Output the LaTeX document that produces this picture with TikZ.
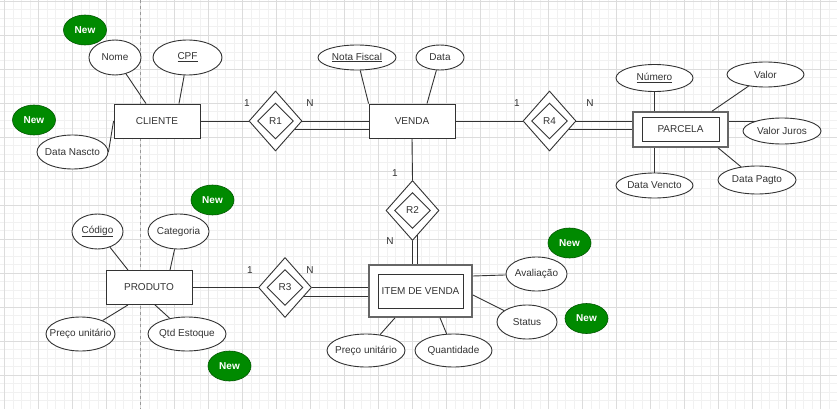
\documentclass[tikz,border=0pt]{standalone}
\usepackage{fontspec}
\setmainfont{Liberation Sans}
\usetikzlibrary{shapes.geometric}

\definecolor{ink}{HTML}{333333}
\definecolor{newgreen}{HTML}{008A00}
\definecolor{newstroke}{HTML}{005700}
\definecolor{gridminor}{HTML}{F1F1F1}
\definecolor{gridmajor}{HTML}{DCDCDC}

\tikzset{
  link/.style={draw=ink, line width=0.9},
  entity/.style={rectangle, draw=ink, line width=0.9, fill=white, minimum width=86, minimum height=34, inner sep=0},
  weakout/.style={rectangle, draw=black!60, line width=1.6, fill=white, inner sep=0},
  weakin/.style={rectangle, draw=ink, line width=0.9, inner sep=0},
  attrib/.style={ellipse, draw=ink, line width=0.9, fill=white, inner sep=0,
    execute at begin node={\hbox to 0pt\bgroup\hss}, execute at end node={\hss\egroup}},
  relout/.style={diamond, draw=ink, line width=0.9, fill=white, minimum width=53, minimum height=60, inner sep=0},
  relin/.style={diamond, draw=ink, line width=0.9, minimum width=36, minimum height=36, inner sep=0},
  newtag/.style={ellipse, draw=newstroke, line width=0.6, fill=newgreen, text=white, font=\fontsize{10}{12}\selectfont\bfseries,
    minimum width=43, minimum height=30, inner sep=0},
  card/.style={inner sep=0}
}

\begin{document}
\begin{tikzpicture}[x=1pt, y=-1pt, font=\fontsize{10}{12}\selectfont, text=ink]
        \fill[white] (0,0) rectangle (837,409);
        \useasboundingbox (0,0) rectangle (837,409);

        \foreach \i in {0,...,97} \draw[gridminor, line width=0.7] ({4.5+8.5*\i},0) -- ({4.5+8.5*\i},409);
        \foreach \i in {0,...,47} \draw[gridminor, line width=0.7] (0,{1+8.5*\i}) -- (837,{1+8.5*\i});
        \foreach \i in {0,...,24} \draw[gridmajor, line width=0.8] ({4.5+34*\i},0) -- ({4.5+34*\i},409);
        \foreach \i in {0,...,11} \draw[gridmajor, line width=0.8] (0,{1+34*\i}) -- (837,{1+34*\i});
        \draw[black!40, dashed, line width=0.8] (140.5,0) -- (140.5,409);

        \node[newtag] (new1) at (85,30) {New};
        \node[newtag] (new2) at (34,120) {New};
        \node[newtag] (new3) at (212.5,200) {New};
        \node[newtag] (new4) at (229.5,366) {New};
        \node[newtag] (new5) at (569.5,243) {New};
        \node[newtag] (new6) at (586.5,318.5) {New};

        \node[entity] (cliente) at (157,121) {CLIENTE};
        \node[attrib, minimum width=52, minimum height=35] (nome) at (115,57.5) {Nome};
        \node[attrib, minimum width=69, minimum height=35] (cpf) at (187.5,57.5) {\underline{CPF}};
        \node[attrib, minimum width=71, minimum height=34] (nascto) at (72.5,152) {Data Nascto};

        \node[relout] (r1) at (275.5,121) {};
        \node[relin] (r1in) at (r1) {R1};
        \node[card] (c1one) at (247,103) {1};
        \node[card] (c1many) at (310,103) {N};

        \node[entity] (venda) at (412,121) {VENDA};
        \node[attrib, minimum width=78, minimum height=25] (nf) at (357,57.5) {\underline{Nota Fiscal}};
        \node[attrib, minimum width=48, minimum height=25] (data) at (440,57.5) {Data};

        \node[relout] (r4) at (549.5,121) {};
        \node[relin] (r4in) at (r4) {R4};
        \node[card] (c4one) at (517,103) {1};
        \node[card] (c4many) at (590,103) {N};

        \node[weakout, minimum width=95, minimum height=35] (parcela) at (680.5,129.5) {};
        \node[weakin, minimum width=77, minimum height=24] (parcelain) at (parcela) {PARCELA};
        \node[attrib, minimum width=77, minimum height=27] (numero) at (654.5,78) {\underline{Número}};
        \node[attrib, minimum width=77, minimum height=25] (valor) at (765.5,74.5) {Valor};
        \node[attrib, minimum width=78, minimum height=26] (vjuros) at (782,131) {Valor Juros};
        \node[attrib, minimum width=77, minimum height=25] (dvencto) at (654.5,185.5) {Data Vencto};
        \node[attrib, minimum width=78, minimum height=28] (dpagto) at (757,180) {Data Pagto};

        \node[relout] (r2) at (412.5,210.5) {};
        \node[relin] (r2in) at (r2) {R2};
        \node[card] (c2one) at (395,173) {1};
        \node[card] (c2many) at (390,241) {N};

        \node[weakout, minimum width=103, minimum height=52] (item) at (420.5,291) {};
        \node[weakin, minimum width=85, minimum height=34] (itemin) at (item) {ITEM DE VENDA};
        \node[attrib, minimum width=78, minimum height=33] (ipreco) at (366,350.5) {Preço unitário};
        \node[attrib, minimum width=77, minimum height=33] (qtd) at (453.5,350.5) {Quantidade};
        \node[attrib, minimum width=61, minimum height=34] (aval) at (536.5,274) {Avaliação};
        \node[attrib, minimum width=60, minimum height=34] (status) at (527,322) {Status};

        \node[relout] (r3) at (285,287.5) {};
        \node[relin] (r3in) at (r3) {R3};
        \node[card] (c3one) at (250,270) {1};
        \node[card] (c3many) at (310,270) {N};

        \node[entity] (produto) at (149,287.5) {PRODUTO};
        \node[attrib, minimum width=51, minimum height=35] (codigo) at (97.5,231.5) {\underline{Código}};
        \node[attrib, minimum width=61, minimum height=35] (categoria) at (178.5,231.5) {Categoria};
        \node[attrib, minimum width=69, minimum height=34] (ppreco) at (80.5,334) {Preço unitário};
        \node[attrib, minimum width=78, minimum height=34] (qtdest) at (187,334) {Qtd Estoque};

        \draw[link] (nome) -- ([xshift=-11]cliente.north);
        \draw[link] (cpf) -- ([xshift=22]cliente.north);
        \draw[link] (nascto.east) -- (cliente.west);
        \draw[link] (cliente.east) -- (r1.west);
        \draw[link] (r1.east) -- (venda.west);
        \draw[link] (r1.-24) -- (r1.-24 -| venda.west);

        \draw[link] (nf) -- (venda.north west);
        \draw[link] (data) -- ([xshift=15]venda.north);
        \draw[link] (venda.east) -- (r4.west);
        \draw[link] (r4.east) -- (r4.east -| parcela.west);
        \draw[link] (r4.-22) -- (r4.-22 -| parcela.west);

        \draw[link] (numero) -- (numero |- parcela.north);
        \draw[link] (valor) -- ([xshift=31.5]parcela.north);
        \draw[link] (vjuros.160) -- (vjuros.160 -| parcela.east);
        \draw[link] (dvencto) -- (dvencto |- parcela.south);
        \draw[link] (dpagto) -- ([xshift=37.5]parcela.south);

        \draw[link] (venda.south) -- (r2.north);
        \draw[link] (r2.south) -- (r2.south |- item.north);
        \draw[link] (r2.-78) -- (r2.-78 |- item.north);

        \draw[link] (ipreco) -- ([xshift=-25.5]item.south);
        \draw[link] (qtd) -- ([xshift=19.5]item.south);
        \draw[link] ([yshift=15]item.east) -- (aval);
        \draw[link] ([yshift=-4]item.east) -- (status);

        \draw[link] (produto.east) -- (r3.west);
        \draw[link] (r3.east) -- (r3.east -| item.west);
        \draw[link] (r3.-26) -- (r3.-26 -| item.west);

        \draw[link] (codigo) -- ([xshift=-21]produto.north);
        \draw[link] (categoria) -- ([xshift=21]produto.north);
        \draw[link] ([xshift=-21]produto.south) -- (ppreco);
        \draw[link] ([xshift=6]produto.south) -- (qtdest);
\end{tikzpicture}
\end{document}
